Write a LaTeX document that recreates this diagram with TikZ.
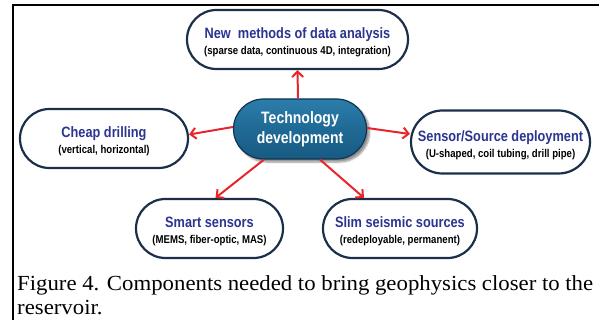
\documentclass[tikz,border=0pt]{standalone}
\usepackage{fontspec}
\setmainfont{Liberation Serif}
\newfontfamily\boxfont[FakeStretch=0.85]{Liberation Sans}
\newfontfamily\capfont[FakeStretch=1.06]{Liberation Serif}
\usetikzlibrary{arrows.meta,shadows.blur}

\definecolor{rim}{HTML}{1C2F4A}
\definecolor{headblue}{HTML}{2B3591}
\definecolor{techfill}{HTML}{1F6A95}
\definecolor{techtop}{HTML}{2C7DAB}
\definecolor{techbottom}{HTML}{175A82}
\definecolor{techrim}{HTML}{0F3550}
\definecolor{arrowred}{HTML}{E8252B}

% first line of a topic box, with a strut that centres the two lines
\newcommand\headline[1]{\rule{0pt}{17pt}#1}
% second line of a topic box: smaller, black
\newcommand\detailtext[1]{{\fontsize{11.3}{16}\selectfont\color{black}#1}}

\begin{document}
\begin{tikzpicture}[x=1pt,y=-1pt,
  pill/.style 2 args={draw=rim, line width=2.2pt, fill=white,
    minimum width=#1pt, minimum height=#2pt, rounded corners=#2*0.5pt,
    inner sep=0pt, align=center, text=headblue,
    font=\boxfont\bfseries\fontsize{15}{16}\selectfont},
  hub/.style={draw=techrim, line width=1.2pt,
    top color=techtop, bottom color=techbottom, middle color=techfill,
    minimum width=133pt, minimum height=60pt, rounded corners=30pt,
    inner sep=0pt, align=center, text=white,
    font=\boxfont\bfseries\fontsize{16.5}{20}\selectfont,
    blur shadow={shadow xshift=3pt, shadow yshift=-3pt,
      shadow blur steps=6, shadow opacity=45}},
  arr/.style={draw=arrowred, line width=2pt,
    -{Straight Barb[length=5.5pt,width=11pt]}},
  frame/.style={draw=black, line width=2pt}]

\useasboundingbox (0,0) rectangle (599,320);

% frame of the figure
\draw[frame] (599,5) -- (12.5,5) -- (12.5,320);

% central node
\node[hub] (tech) at (300,129) {Technology\\development};

% topic boxes
\node[pill={221}{59}] (analysis) at (297.5,39.5)
  {\headline{New\ \ methods of data analysis}\\\detailtext{(sparse data, continuous 4D, integration)}};
\node[pill={168}{59}] (drilling) at (104,138.5)
  {\headline{Cheap drilling}\\\detailtext{(vertical, horizontal)}};
\node[pill={179}{63}] (deploy) at (500.5,142)
  {\headline{Sensor/Source deployment}\\\detailtext{(U-shaped, coil tubing, drill pipe)}};
\node[pill={147}{59}] (sensors) at (209.5,228.5)
  {\headline{Smart sensors}\\\detailtext{(MEMS, fiber-optic, MAS)}};
\node[pill={154}{59}] (sources) at (400,228.5)
  {\headline{Slim seismic sources}\\\detailtext{(redeployable, permanent)}};

% connectors from the hub
\draw[arr] ([xshift=-2pt]tech.north) -- (analysis.south);
\draw[arr] ([yshift=2pt]tech.west) -- ([yshift=4pt]drilling.east);
\draw[arr] ([yshift=1pt]tech.east) -- ([yshift=8pt]deploy.west);
\draw[arr] ([xshift=-36pt]tech.south) -- ([xshift=6pt]sensors.north);
\draw[arr] ([xshift=20pt]tech.south) -- ([xshift=-36pt]sources.north);

% caption
\node[anchor=north west, inner sep=0pt, text width=576pt, align=justify,
  font=\capfont\fontsize{21.5}{24}\selectfont] (caption) at (17,275)
  {\tolerance=10000\hbadness=10000\hyphenpenalty=10000\exhyphenpenalty=10000
   Figure 4. Components needed to bring geophysics closer to the reservoir.};
\end{tikzpicture}
\end{document}
